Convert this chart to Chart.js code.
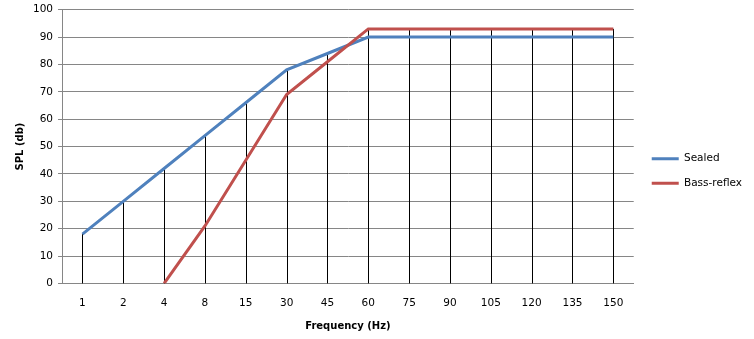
<!DOCTYPE html>
<html>
<head>
<meta charset="utf-8">
<script src="https://cdn.jsdelivr.net/npm/chart.js@4"></script>
<style>
  html, body { margin: 0; padding: 0; background: #fff; }
  #wrap { width: 754px; height: 339px; }
</style>
</head>
<body>
<div id="wrap"><canvas id="splChart"></canvas></div>
<script>
const frequencies = ['1', '2', '4', '8', '15', '30', '45', '60', '75', '90', '105', '120', '135', '150'];
const sealed = [18, 30, 42, 54, 66, 78, 84, 90, 90, 90, 90, 90, 90, 90];
const bassReflex = [null, null, 0, 21, 45, 69, 81, 93, 93, 93, 93, 93, 93, 93];
const yTicks = [0, 10, 20, 30, 40, 50, 60, 70, 80, 90, 100];

const blue = '#4F81BD';
const red = '#C0504D';
const gridGray = '#868686';
const font = 'DejaVu Sans';

// legend sits a bit further from the plot and lower than Chart.js puts it
const legendNudge = {
    id: 'legendNudge',
    beforeLayout(chart) {
        const lg = chart.legend;
        if (lg && !lg._nudged) {
            const fit = lg.fit.bind(lg);
            const draw = lg.draw.bind(lg);
            lg.fit = function () { fit(); this.width += 4; };
            lg.draw = function () {
                const c = this.ctx;
                c.save();
                c.translate(4, 5);
                draw();
                c.restore();
            };
            lg._nudged = true;
        }
    }
};

// vertical drop lines from the highest point at each category down to the x axis
const dropLines = {
    id: 'dropLines',
    beforeDatasetsDraw(chart) {
        const ctx = chart.ctx;
        const yScale = chart.scales.y;
        const metas = chart.data.datasets.map((d, i) => chart.getDatasetMeta(i));
        ctx.save();
        ctx.strokeStyle = '#000';
        ctx.lineWidth = 1;
        frequencies.forEach((f, idx) => {
            let top = null, x = null;
            metas.forEach((m, di) => {
                const v = chart.data.datasets[di].data[idx];
                if (v === null || v === undefined) return;
                const pt = m.data[idx];
                x = pt.x;
                if (top === null || pt.y < top) top = pt.y;
            });
            if (top === null) return;
            const px = Math.round(x) + 0.5;
            ctx.beginPath();
            ctx.moveTo(px, top);
            ctx.lineTo(px, yScale.bottom);
            ctx.stroke();
        });
        ctx.restore();
    }
};

const ctx = document.getElementById('splChart').getContext('2d');
new Chart(ctx, {
    type: 'line',
    data: {
        labels: frequencies,
        datasets: [{
            label: 'Sealed',
            data: sealed,
            borderColor: blue,
            backgroundColor: blue,
            borderWidth: 3,
            pointRadius: 0,
            tension: 0,
            order: 1
        }, {
            label: 'Bass-reflex',
            data: bassReflex,
            borderColor: red,
            backgroundColor: red,
            borderWidth: 3,
            pointRadius: 0,
            tension: 0,
            order: 0
        }]
    },
    options: {
        responsive: true,
        maintainAspectRatio: false,
        animation: false,
        layout: { padding: { top: 0, right: 2, left: 14, bottom: 7 } },
        plugins: {
            tooltip: { enabled: false },
            legend: {
                position: 'right',
                labels: {
                    boxWidth: 27,
                    boxHeight: 3,
                    padding: 14,
                    color: '#000',
                    font: { family: font, size: 10.5 },
                    sort: (a, b) => a.datasetIndex - b.datasetIndex,
                    generateLabels(chart) {
                        const items = Chart.defaults.plugins.legend.labels.generateLabels(chart);
                        items.forEach(it => { it.lineWidth = 0; });
                        return items;
                    }
                }
            }
        },
        scales: {
            x: {
                offset: true,
                grid: { display: false, drawTicks: false },
                border: { display: true, color: gridGray, width: 1 },
                ticks: { color: '#000', font: { family: font, size: 10.5 }, padding: 14, maxRotation: 0, autoSkip: false },
                title: { display: true, text: 'Frequency (Hz)', color: '#000', font: { family: font, size: 10, weight: 'bold' }, padding: { top: -4, bottom: 0 } }
            },
            y: {
                min: 0,
                max: 100,
                afterBuildTicks(scale) { scale.ticks = yTicks.map(v => ({ value: v })); },
                grid: { color: gridGray, lineWidth: 1, tickLength: 4 },
                border: { display: true, color: gridGray, width: 1 },
                ticks: { color: '#000', font: { family: font, size: 10.5, lineHeight: 0.9 }, padding: 5 },
                title: { display: true, text: 'SPL (db)', color: '#000', font: { family: font, size: 10, weight: 'bold' }, padding: { top: 0, bottom: 2 } }
            }
        }
    },
    plugins: [legendNudge, dropLines]
});
</script>
</body>
</html>
